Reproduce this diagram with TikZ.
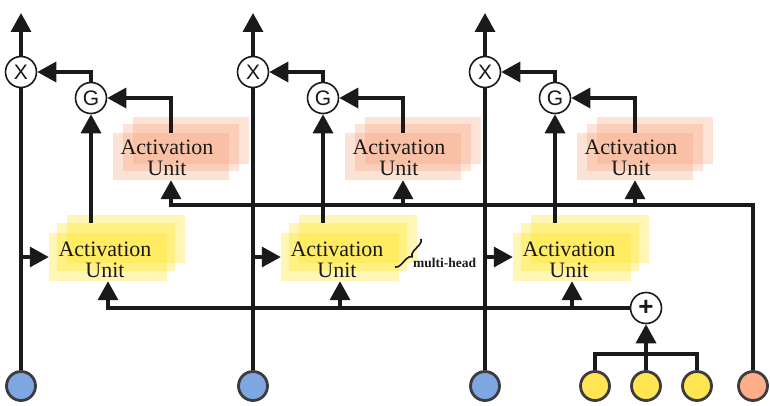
\documentclass[tikz,border=0pt]{standalone}
\usepackage{fontspec}
\setmainfont{Liberation Serif}
\newfontfamily\sansf{Liberation Sans}
\usetikzlibrary{arrows.meta,calc,decorations.pathreplacing}
\definecolor{ln}{HTML}{1A1A1A}
\definecolor{yfill}{RGB}{255,228,30}
\definecolor{ofill}{RGB}{248,160,120}
\definecolor{bluec}{HTML}{7EA6E0}
\definecolor{yelc}{HTML}{FFE552}
\definecolor{orc}{HTML}{FFAD88}
\definecolor{circb}{HTML}{3C3C3C}
\begin{document}
\begin{tikzpicture}[x=1pt,y=-1pt,
  conn/.style={line width=3.5pt, draw=ln},
  arr/.style={conn,-{Triangle[length=19pt,width=20pt]}},
  layer/.style={minimum width=118pt, minimum height=48pt, inner sep=0pt, fill opacity=0.33},
  ylayer/.style={layer, fill=yfill},
  olayer/.style={layer, fill=ofill, fill opacity=0.3, minimum width=116pt, minimum height=47pt},
  autext/.style={align=center, inner sep=0pt, font=\fontsize{22}{21}\selectfont, text=ln},
  op/.style={circle, draw=ln, line width=1.6pt, fill=white, minimum size=31pt, inner sep=0pt, text=ln, font=\sansf\fontsize{21}{21}\selectfont},
  inp/.style={circle, draw=circb, line width=2.8pt, minimum size=29pt, inner sep=0pt},
]
\useasboundingbox (0,0) rectangle (770,406);

\foreach \k in {0,1,2}{
  \begin{scope}[xshift=232*\k]
    % activation units
    \node[ylayer] (Yb\k) at (126,238.5) {};
    \node[ylayer] (Ym\k) at (116,247) {};
    \node[ylayer] (Y\k) at (108,257) {};
    \node[autext] (Yt\k) at (105,259.5) {Activation\\Unit};
    \node[olayer] (Ob\k) at (191,140.5) {};
    \node[olayer] (Om\k) at (181,148) {};
    \node[olayer] (O\k) at (171,156.5) {};
    \node[autext] (Ot\k) at (167,158) {Activation\\Unit};
    % operators
    \node[op] (X\k) at (21,72) {X};
    \node[op] (G\k) at (91,98) {G};
    \node[inp, fill=bluec] (B\k) at (21,386) {};
    \coordinate (T\k) at (21,13);
    % connectors
    \draw[arr] (X\k.north) -- (T\k);
    \draw[conn] (B\k.north) -- (X\k.south);
    \draw[arr] (G\k.north) |- (X\k.east);
    \draw[arr] (O\k.north) |- (G\k.east);
    \draw[arr] (G\k.south |- Ym\k.north) -- (G\k.south);
    \draw[arr] (B\k |- Y\k.west) -- (Y\k.west);
  \end{scope}
}

% plus and inputs
\node[op, font=\sansf\bfseries\fontsize{26}{26}\selectfont] (P) at (646,308) {+};
\node[inp, fill=yelc] (C1) at (595,386) {};
\node[inp, fill=yelc] (C2) at (646,386) {};
\node[inp, fill=yelc] (C3) at (697,386) {};
\node[inp, fill=orc] (R) at (753,386) {};
\coordinate (yb) at (646,354);
\coordinate (ob) at (753,205);

\draw[conn] (C1.north) |- (C3.north |- yb) -- (C3.north);
\draw[arr] (C2.north) -- (P.south);

\draw[arr] (P.west) -| (Y0.south);
\draw[arr] (Y1.south |- P) -- (Y1.south);
\draw[arr] (Y2.south |- P) -- (Y2.south);

\draw[arr] (R.north) -- (ob) -| (O0.south);
\draw[arr] (O1.south |- ob) -- (O1.south);
\draw[arr] (O2.south |- ob) -- (O2.south);

% multi-head
\draw[ln, line width=1.6pt, decorate, decoration={brace, amplitude=5.5pt}] (421,239) -- (395,267);
\node[text=ln, font=\bfseries\fontsize{13.5}{14}\selectfont] (mh) at (444.5,263) {multi-head};
\end{tikzpicture}
\end{document}
